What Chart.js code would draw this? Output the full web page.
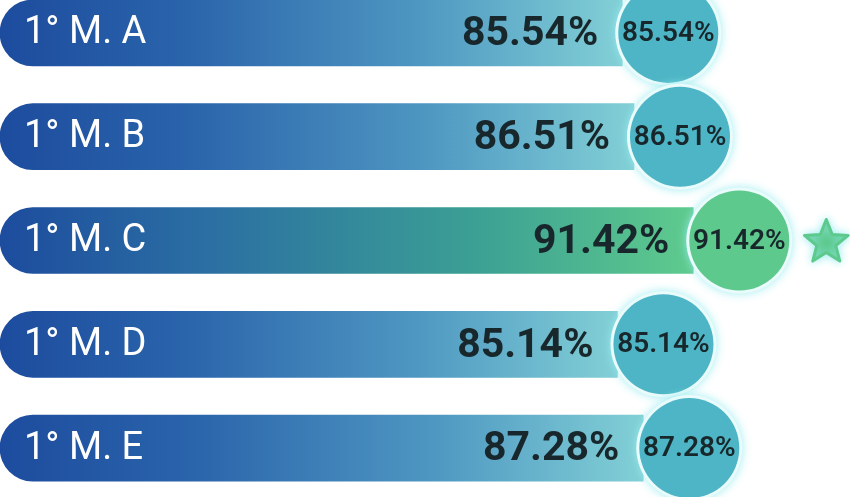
<!DOCTYPE html>
<html>
<head>
<meta charset="utf-8">
<script src="https://cdn.jsdelivr.net/npm/chart.js@4/dist/chart.umd.min.js"></script>
<style>
  html, body { margin: 0; padding: 0; background: #fff; overflow: hidden; }
  #wrap { position: relative; width: 850px; height: 497px; overflow: hidden; }
  #chart { position: absolute; left: 0; top: -19px; }
</style>
</head>
<body>
<div id="wrap"><canvas id="chart" width="850" height="519"></canvas></div>
<script>
  // ---- data ----
  const classes = ["1° M. A", "1° M. B", "1° M. C", "1° M. D", "1° M. E"];
  const scores = [85.54, 86.51, 91.42, 85.14, 87.28];

  const X_MIN = 34, X_MAX = 104.4;
  const best = scores.indexOf(Math.max(...scores));
  const fmt = v => v.toFixed(2) + "%";

  const C = {
    blue: ["#1d4c9e", "#2a64ab", "#4f98c2", "#82d0d6"],
    green: ["#1d4c9e", "#2b6fa3", "#3b9f94", "#5fcb8d"],
    bubble: "#4db5c5", bubbleGreen: "#5dc98c",
    txt: "#18272b", glow: "rgba(150,235,240,0.9)",
  };

  function barFill(ctx) {
    const chart = ctx.chart;
    if (!chart.chartArea || ctx.dataIndex === undefined) return C.blue[0];
    const x = chart.scales.x;
    const end = x.getPixelForValue(scores[ctx.dataIndex]);
    const stops = ctx.dataIndex === best ? C.green : C.blue;
    const g = chart.ctx.createLinearGradient(chart.chartArea.left, 0, end, 0);
    g.addColorStop(0, stops[0]);
    g.addColorStop(0.3, stops[1]);
    g.addColorStop(0.68, stops[2]);
    g.addColorStop(1, stops[3]);
    return g;
  }

  function star(ctx, cx, cy, R, r) {
    ctx.beginPath();
    for (let i = 0; i < 10; i++) {
      const rad = i % 2 ? r : R;
      const a = -Math.PI / 2 + i * Math.PI / 5;
      ctx.lineTo(cx + rad * Math.cos(a), cy + rad * Math.sin(a));
    }
    ctx.closePath();
  }

  // labels, value text, end bubbles and the star for the top score
  const decor = {
    id: "decor",
    afterDatasetsDraw(chart) {
      const { ctx } = chart;
      const meta = chart.getDatasetMeta(0);
      meta.data.forEach((bar, i) => {
        const y = bar.y, end = bar.x;
        ctx.save();
        ctx.textBaseline = "middle";
        // class label
        ctx.fillStyle = "#ffffff";
        ctx.font = "400 38px Roboto";
        ctx.textAlign = "left";
        ctx.fillText(classes[i], 24, y + 1);
        // value near bar end
        ctx.fillStyle = C.txt;
        ctx.font = "700 41px Roboto";
        ctx.textAlign = "right";
        ctx.fillText(fmt(scores[i]), end - 24, y + 2);
        // bubble
        const cx = end + 46, r = 53;
        ctx.shadowColor = C.glow;
        ctx.shadowBlur = 10;
        ctx.beginPath();
        ctx.arc(cx, y, r, 0, Math.PI * 2);
        ctx.fillStyle = "#e9fbfb";
        ctx.fill();
        ctx.shadowBlur = 0;
        ctx.beginPath();
        ctx.arc(cx, y, r - 3, 0, Math.PI * 2);
        ctx.fillStyle = i === best ? C.bubbleGreen : C.bubble;
        ctx.fill();
        ctx.fillStyle = C.txt;
        ctx.font = "600 28px Roboto";
        ctx.textAlign = "center";
        ctx.fillText(fmt(scores[i]), cx, y + 1);
        if (i === best) {
          ctx.shadowColor = C.glow;
          ctx.shadowBlur = 8;
          ctx.fillStyle = C.bubbleGreen;
          ctx.lineJoin = "round";
          ctx.strokeStyle = C.bubbleGreen;
          ctx.lineWidth = 3;
          star(ctx, cx + 87, y + 2, 23, 10);
          ctx.fill();
          ctx.stroke();
        }
        ctx.restore();
      });
    },
  };

  new Chart(document.getElementById("chart"), {
    type: "bar",
    data: {
      labels: classes,
      datasets: [{
        data: scores,
        base: X_MIN,
        backgroundColor: barFill,
        borderRadius: { topLeft: 33, bottomLeft: 33, topRight: 0, bottomRight: 0 },
        borderSkipped: false,
        barThickness: 66,
      }],
    },
    options: {
      indexAxis: "y",
      responsive: false, animation: false,
      layout: { padding: 0 },
      plugins: { legend: { display: false }, tooltip: { enabled: false } },
      scales: {
        x: { display: false, min: X_MIN, max: X_MAX },
        y: { display: false },
      },
    },
    plugins: [decor],
  });
</script>
</body>
</html>
